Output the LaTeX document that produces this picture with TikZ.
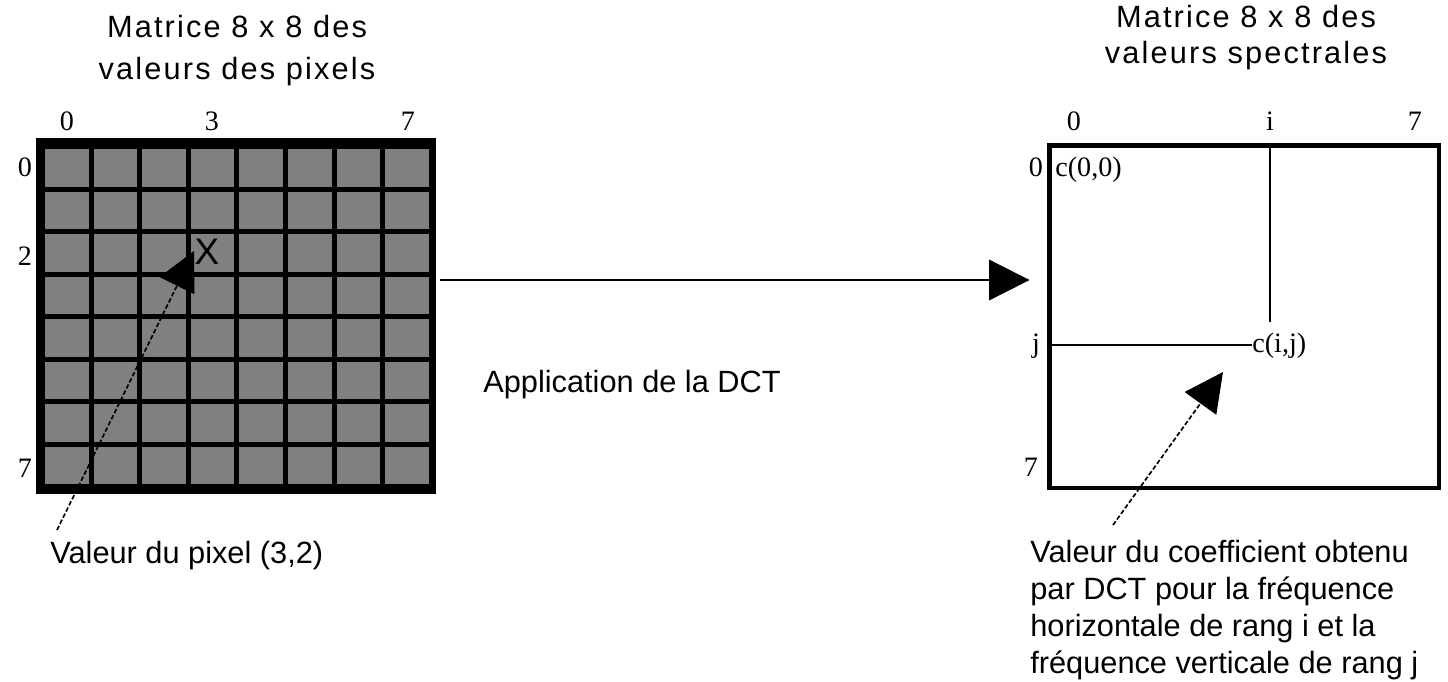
\documentclass[tikz,border=0pt]{standalone}
\usepackage{fontspec}
\setmainfont{Liberation Sans}
\newfontfamily\numfont{Liberation Serif}
\newfontfamily\widefont[LetterSpace=7]{Liberation Sans}
\usetikzlibrary{arrows.meta,positioning}

\begin{document}
\begin{tikzpicture}[
   x=0.02cm,y=-0.02cm,
   every node/.style={font=\fontsize{17.5}{21}\selectfont,inner sep=0pt},
   idx/.style={anchor=base,font=\numfont\fontsize{16}{18}\selectfont},
   coef/.style={anchor=base west,font=\numfont\fontsize{16}{18}\selectfont},
   pixmat/.style={fill=black,minimum width=8cm,minimum height=7.12cm},
   specmat/.style={draw=black,line width=2.8pt,minimum width=7.8cm,minimum height=6.86cm},
   cell/.style={fill=black!50},
   flow/.style={line width=1.1pt,-{Triangle[length=23pt,width=23pt]}},
   pointer/.style={line width=.95pt,dash pattern=on 2.6pt off 1.3pt,
     -{Triangle[length=22pt,width=22pt]}},
   guide/.style={line width=1.1pt}
 ]
  \useasboundingbox (0,0) rectangle (1448,681);

  % Left: the 8x8 block of pixel values.
  \node[align=center,anchor=north,font=\widefont\fontsize{17.5}{24}\selectfont] (pixtitle)
    at (237,15) {Matrice 8 x 8 des\\valeurs des pixels};
  \node[pixmat] (pix) at (236,316) {};
  \foreach \c in {0,...,7}
    \foreach \r in {0,...,7}
      \fill[cell] ({45+48.6*\c},{149+42.5*\r}) rectangle ++(43.6,37.5);
  \node[idx] (pc0) at (67,130) {0};
  \node[idx] (pc3) at (212,130) {3};
  \node[idx] (pc7) at (408,130) {7};
  \node[idx] (pr0) at (25,176) {0};
  \node[idx] (pr2) at (25,265) {2};
  \node[idx] (pr7) at (25,477) {7};
  \node[font=\fontsize{21}{21}\selectfont] (xmark) at (207,252) {X};

  % Pointer from the caption to the pixel (3,2).
  \coordinate (pixtip) at (194,251);
  \coordinate (pixfoot) at (57,530);
  \node[anchor=base west] (pixval) at (50,563) {Valeur du pixel (3,2)};
  \draw[pointer] (pixfoot) -- (pixtip);

  % The transform.
  \node[anchor=base west] (dct) at (483,392) {Application de la DCT};

  % Right: the 8x8 block of spectral values.
  \node[align=center,anchor=north,font=\widefont\fontsize{17.5}{20.5}\selectfont] (spectitle)
    at (1246,5) {Matrice 8 x 8 des\\valeurs spectrales};
  \node[specmat] (spec) at (1244,316.5) {};
  \draw[flow] ([shift={(4,-36)}]pix.east) -- ([shift={(-17,-36.5)}]spec.west);
  \node[idx] (sc0) at (1074,130) {0};
  \node[idx] (sci) at (1270,130) {i};
  \node[idx] (sc7) at (1415,130) {7};
  \node[idx] (sr0) at (1036,176) {0};
  \node[idx] (srj) at (1036,352) {j};
  \node[idx] (sr7) at (1031,476) {7};
  \node[coef] (c00) at (1055,176) {c(0,0)};
  \node[coef] (cij) at (1252,352) {c(i,j)};
  \draw[guide] (sci |- spec.north) -- ([yshift=5.5pt]sci |- cij.north);
  \draw[guide] (spec.west |- cij.west) -- (cij.west);

  % Pointer from the caption to the coefficient c(i,j).
  \coordinate (coeftip) at (1223,372);
  \coordinate (coeffoot) at (1113,525);
  \node[anchor=north west,align=left,font=\fontsize{17.5}{21}\selectfont] (coefval)
    at (1030,540) {Valeur du coefficient obtenu\\par DCT pour la fréquence\\
      horizontale de rang i et la\\fréquence verticale de rang j};
  \draw[pointer] (coeffoot) -- (coeftip);
\end{tikzpicture}
\end{document}
